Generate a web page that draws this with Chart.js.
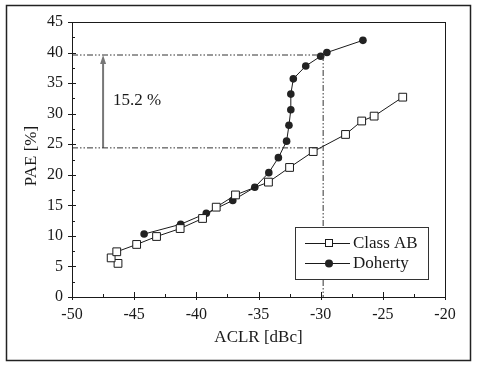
<!DOCTYPE html>
<html>
<head>
<meta charset="utf-8">
<script src="https://cdn.jsdelivr.net/npm/chart.js@4.4.1/dist/chart.umd.min.js"></script>
<style>
  html, body { margin: 0; padding: 0; background: #fff; }
  #wrap { width: 480px; height: 369px; }
</style>
</head>
<body>
<div id="wrap"><canvas id="paeChart" width="480" height="369"></canvas></div>
<script>
// 读图得到的数据
const abAclr = [-46.3, -46.85, -46.4, -44.8, -43.2, -41.3, -39.5, -38.4, -36.85, -34.2, -32.5, -30.6, -28.0, -26.7, -25.7, -23.4];
const abPae  = [5.5, 6.4, 7.4, 8.6, 9.9, 11.2, 12.85, 14.7, 16.7, 18.8, 21.2, 23.8, 26.6, 28.8, 29.6, 32.7];

const dhAclr = [-44.2, -41.26, -39.2, -37.07, -35.3, -34.17, -33.4, -32.74, -32.55, -32.4, -32.4, -32.2, -31.2, -30.0, -29.5, -26.6];
const dhPae  = [10.3, 11.9, 13.7, 15.8, 17.95, 20.35, 22.8, 25.5, 28.1, 30.65, 33.2, 35.7, 37.8, 39.4, 40.0, 42.0];

const xTicks = [-50, -45, -40, -35, -30, -25, -20];
const yTicks = [0, 5, 10, 15, 20, 25, 30, 35, 40, 45];

// 参考线
const refAclr = -29.8;
const refHigh = 39.6;
const refLow = 24.4;
const arrowAclr = -47.5;
const gainLabel = "15.2 %";

const seriesNames = ["Class AB", "Doherty"];
const xTitle = "ACLR [dBc]";
const yTitle = "PAE [%]";

const FONT = "'Liberation Serif', 'Times New Roman', serif";
const INK = "#1a1a1a";
const DASH = [6, 2, 1.5, 2, 1.5, 2];

function toPoints(xs, ys) {
  return xs.map((x, i) => ({ x: x, y: ys[i] }));
}

function refLine(pts) {
  return {
    data: pts,
    showLine: true,
    borderColor: "#333",
    borderWidth: 1,
    borderDash: DASH,
    pointRadius: 0,
    fill: false
  };
}

/** 画刻度、边框、箭头、文字和图例 */
const decorPlugin = {
  id: "decor",
  afterDraw(chart) {
    const ctx = chart.ctx;
    const a = chart.chartArea;
    const xs = chart.scales.x;
    const ys = chart.scales.y;
    ctx.save();

    // 外框
    ctx.strokeStyle = "#222";
    ctx.lineWidth = 1.5;
    ctx.strokeRect(6.5, 5.5, 464, 355);

    // 绘图区边框
    ctx.lineWidth = 1;
    ctx.strokeStyle = INK;
    ctx.strokeRect(a.left + 0.5, a.top + 0.5, a.right - a.left, a.bottom - a.top);

    // x 刻度
    ctx.beginPath();
    for (let v = -50; v <= -20; v += 2.5) {
      const px = Math.round(xs.getPixelForValue(v)) + 0.5;
      const major = v % 5 === 0;
      ctx.moveTo(px, a.bottom + (major ? 3 : 0));
      ctx.lineTo(px, a.bottom - (major ? 5 : 3));
    }
    // y 刻度
    for (let v = 0; v <= 45; v += 2.5) {
      const py = Math.round(ys.getPixelForValue(v)) + 0.5;
      const major = v % 5 === 0;
      ctx.moveTo(a.left - (major ? 4 : 0), py);
      ctx.lineTo(a.left + (major ? 4 : 3), py);
    }
    ctx.stroke();

    // 轴标题
    ctx.fillStyle = INK;
    ctx.font = "17px " + FONT;
    ctx.textAlign = "center";
    ctx.textBaseline = "middle";
    ctx.fillText(xTitle, (a.left + a.right) / 2, 338);
    ctx.save();
    ctx.translate(32, 156);
    ctx.rotate(-Math.PI / 2);
    ctx.fillText(yTitle, 0, 0);
    ctx.restore();

    // 箭头头部
    const ax = xs.getPixelForValue(arrowAclr);
    const ay = ys.getPixelForValue(refHigh);
    ctx.fillStyle = "#777";
    ctx.beginPath();
    ctx.moveTo(ax, ay);
    ctx.lineTo(ax - 3, ay + 9);
    ctx.lineTo(ax + 3, ay + 9);
    ctx.closePath();
    ctx.fill();

    // 15.2 % 标注
    ctx.fillStyle = INK;
    ctx.font = "17px " + FONT;
    ctx.textAlign = "left";
    ctx.textBaseline = "middle";
    ctx.fillText(gainLabel, xs.getPixelForValue(-46.7), ys.getPixelForValue(32.1));

    // 图例
    ctx.fillStyle = "#fff";
    ctx.fillRect(295.5, 227.5, 133, 52);
    ctx.strokeStyle = "#333";
    ctx.strokeRect(295.5, 227.5, 133, 52);
    const rows = [243, 263];
    rows.forEach((ry, i) => {
      ctx.strokeStyle = INK;
      ctx.lineWidth = 1;
      ctx.beginPath();
      ctx.moveTo(305, ry + 0.5);
      ctx.lineTo(350, ry + 0.5);
      ctx.stroke();
      if (i === 0) {
        ctx.fillStyle = "#fff";
        ctx.fillRect(325, ry - 4, 8, 8);
        ctx.strokeRect(325.5, ry - 3.5, 7, 7);
      } else {
        ctx.fillStyle = "#222";
        ctx.beginPath();
        ctx.arc(329, ry + 0.5, 4, 0, Math.PI * 2);
        ctx.fill();
      }
      ctx.fillStyle = INK;
      ctx.font = "17px " + FONT;
      ctx.fillText(seriesNames[i], 353, ry + 1);
    });

    ctx.restore();
  }
};

const ctx = document.getElementById("paeChart").getContext("2d");

new Chart(ctx, {
  type: "scatter",
  data: {
    datasets: [
      refLine([{ x: -50, y: refHigh }, { x: refAclr, y: refHigh }]),
      refLine([{ x: -50, y: refLow }, { x: refAclr, y: refLow }]),
      refLine([{ x: refAclr, y: refHigh }, { x: refAclr, y: 0 }]),
      {
        data: [{ x: arrowAclr, y: refLow }, { x: arrowAclr, y: refHigh - 1 }],
        showLine: true,
        borderColor: "#777",
        borderWidth: 2,
        pointRadius: 0
      },
      {
        label: seriesNames[0],
        data: toPoints(abAclr, abPae),
        showLine: true,
        borderColor: INK,
        borderWidth: 1,
        pointStyle: "rect",
        pointRadius: 5.5,
        pointBackgroundColor: "#fff",
        pointBorderColor: INK,
        pointBorderWidth: 1
      },
      {
        label: seriesNames[1],
        data: toPoints(dhAclr, dhPae),
        showLine: true,
        borderColor: INK,
        borderWidth: 1,
        pointStyle: "circle",
        pointRadius: 3.8,
        pointBackgroundColor: "#222",
        pointBorderColor: "#222",
        pointBorderWidth: 0
      }
    ]
  },
  options: {
    responsive: false,
    animation: false,
    layout: { padding: { left: 0, top: 22, right: 35, bottom: 0 } },
    plugins: {
      legend: { display: false },
      tooltip: { enabled: false }
    },
    scales: {
      x: {
        type: "linear",
        min: -50,
        max: -20,
        afterFit(scale) { scale.height = 72; },
        afterBuildTicks(scale) { scale.ticks = xTicks.map((v) => ({ value: v })); },
        grid: { display: true, drawOnChartArea: false, drawTicks: false },
        border: { display: false },
        ticks: {
          padding: 8,
          color: INK,
          font: { family: FONT, size: 16 },
          maxRotation: 0
        }
      },
      y: {
        type: "linear",
        min: 0,
        max: 45,
        afterFit(scale) { scale.width = 72; },
        afterBuildTicks(scale) { scale.ticks = yTicks.map((v) => ({ value: v })); },
        grid: { display: true, drawOnChartArea: false, drawTicks: false },
        border: { display: false },
        ticks: {
          padding: 9,
          color: INK,
          font: { family: FONT, size: 16 }
        }
      }
    }
  },
  plugins: [decorPlugin]
});
</script>
</body>
</html>
